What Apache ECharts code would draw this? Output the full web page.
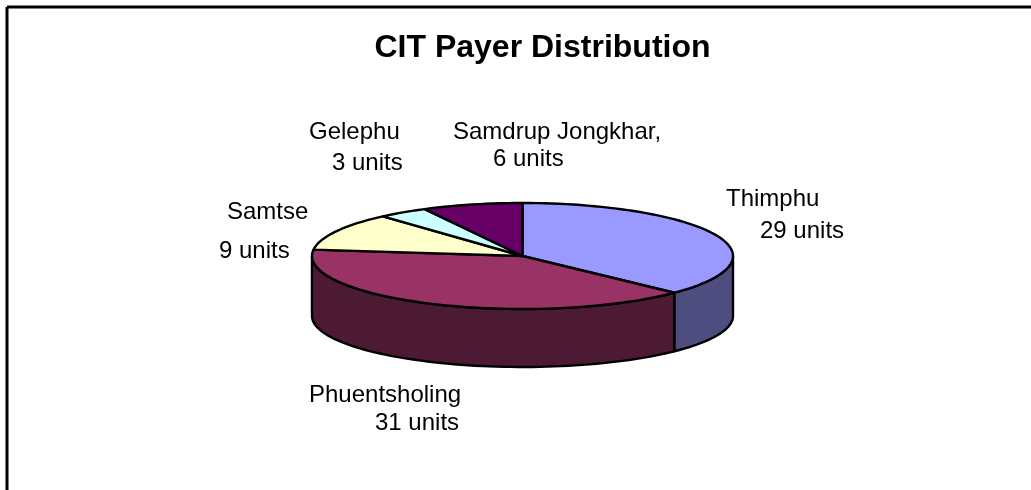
<!DOCTYPE html>
<html>
<head>
<meta charset="utf-8">
<style>html,body{margin:0;padding:0;background:#fff}#c{width:1031px;height:490px}</style>
<script src="https://cdn.jsdelivr.net/npm/echarts@6/dist/echarts.min.js"></script>
</head>
<body>
<div id="c"></div>
<script>
const titleText = 'CIT Payer Distribution';
const categories = ['Thimphu', 'Phuentsholing', 'Samtse', 'Gelephu', 'Samdrup Jongkhar,'];
const values = [29, 31, 9, 3, 6];
const unitName = 'units';

const topColors = ['#9999FF', '#993366', '#FFFFCC', '#CCFFFF', '#660066'];
const sideColors = ['#4D4D80', '#4D1A33', '#80806A', '#6A8080', '#330033'];
const FONT = '"Liberation Sans", Arial, sans-serif';

// Layout of the tilted disc, in pixels
const disc = { cx: 522.5, cy: 256, rx: 210.5, ry: 53, bottomCy: 316, bottomRy: 51 };
// Left x and middle y of the two text lines of each label
const labelLayout = [
  [[726, 199], [760, 231]],
  [[309, 395], [375, 423]],
  [[227, 212], [219, 251]],
  [[309, 132], [332, 163]],
  [[453, 132], [493, 159]]
];

const total = values.reduce((a, b) => a + b, 0);
function sliceAngles(i) {
  let before = 0;
  for (let k = 0; k < i; k++) before += values[k];
  return [before / total * 360, (before + values[i]) / total * 360];
}
function topPoint(deg) {
  const t = deg * Math.PI / 180;
  return [disc.cx + disc.rx * Math.sin(t), disc.cy - disc.ry * Math.cos(t)];
}
function bottomPoint(deg) {
  const t = deg * Math.PI / 180;
  return [disc.cx + disc.rx * Math.sin(t), disc.bottomCy - disc.bottomRy * Math.cos(t)];
}
function arc(fn, a, b) {
  const pts = [];
  const n = Math.max(1, Math.ceil(Math.abs(b - a) / 2));
  for (let s = 0; s <= n; s++) pts.push(fn(a + (b - a) * s / n));
  return pts;
}
const seriesData = values.map((v, i) => ({ name: categories[i], value: [v] }));

function renderSide(params, api) {
  const i = params.dataIndex;
  const [a0, a1] = sliceAngles(i);
  const a = Math.max(a0, 90), b = Math.min(a1, 270);
  if (b <= a) return { type: 'group', children: [] };
  const pts = arc(topPoint, a, b).concat(arc(bottomPoint, b, a));
  return {
    type: 'polygon',
    shape: { points: pts },
    style: { fill: sideColors[i], stroke: '#000', lineWidth: 2.4, lineJoin: 'round' }
  };
}
function renderTop(params, api) {
  const i = params.dataIndex;
  const [a0, a1] = sliceAngles(i);
  const pts = [[disc.cx, disc.cy]].concat(arc(topPoint, a0, a1));
  return {
    type: 'polygon',
    shape: { points: pts },
    style: { fill: topColors[i], stroke: '#000', lineWidth: 2.4, lineJoin: 'round' }
  };
}
function renderLabel(params, api) {
  const i = params.dataIndex;
  const lines = [categories[i], api.value(0) + ' ' + unitName];
  return {
    type: 'group',
    children: lines.map((txt, k) => ({
      type: 'text',
      style: {
        x: labelLayout[i][k][0], y: labelLayout[i][k][1], text: txt,
        fill: '#000', font: '24px ' + FONT, textAlign: 'left', textVerticalAlign: 'middle'
      }
    }))
  };
}

const chart = echarts.init(document.getElementById('c'), null, { renderer: 'canvas' });
chart.setOption({
  animation: false,
  backgroundColor: '#fff',
  title: {
    text: titleText, left: 537.5, top: 27, textAlign: 'center',
    textStyle: { fontFamily: FONT, fontSize: 32, fontWeight: 'bold', color: '#000' }
  },
  graphic: [
    { type: 'line', shape: { x1: 7, y1: 7, x2: 1031, y2: 7 }, style: { stroke: '#000', lineWidth: 3 } },
    { type: 'line', shape: { x1: 7, y1: 7, x2: 7, y2: 490 }, style: { stroke: '#000', lineWidth: 3 } }
  ],
  series: [
    { type: 'custom', coordinateSystem: 'none', z: 1, data: seriesData, renderItem: renderSide, silent: true },
    { type: 'custom', coordinateSystem: 'none', z: 2, data: seriesData, renderItem: renderTop, silent: true },
    { type: 'custom', coordinateSystem: 'none', z: 3, data: seriesData, renderItem: renderLabel, silent: true }
  ]
});
</script>
</body>
</html>
